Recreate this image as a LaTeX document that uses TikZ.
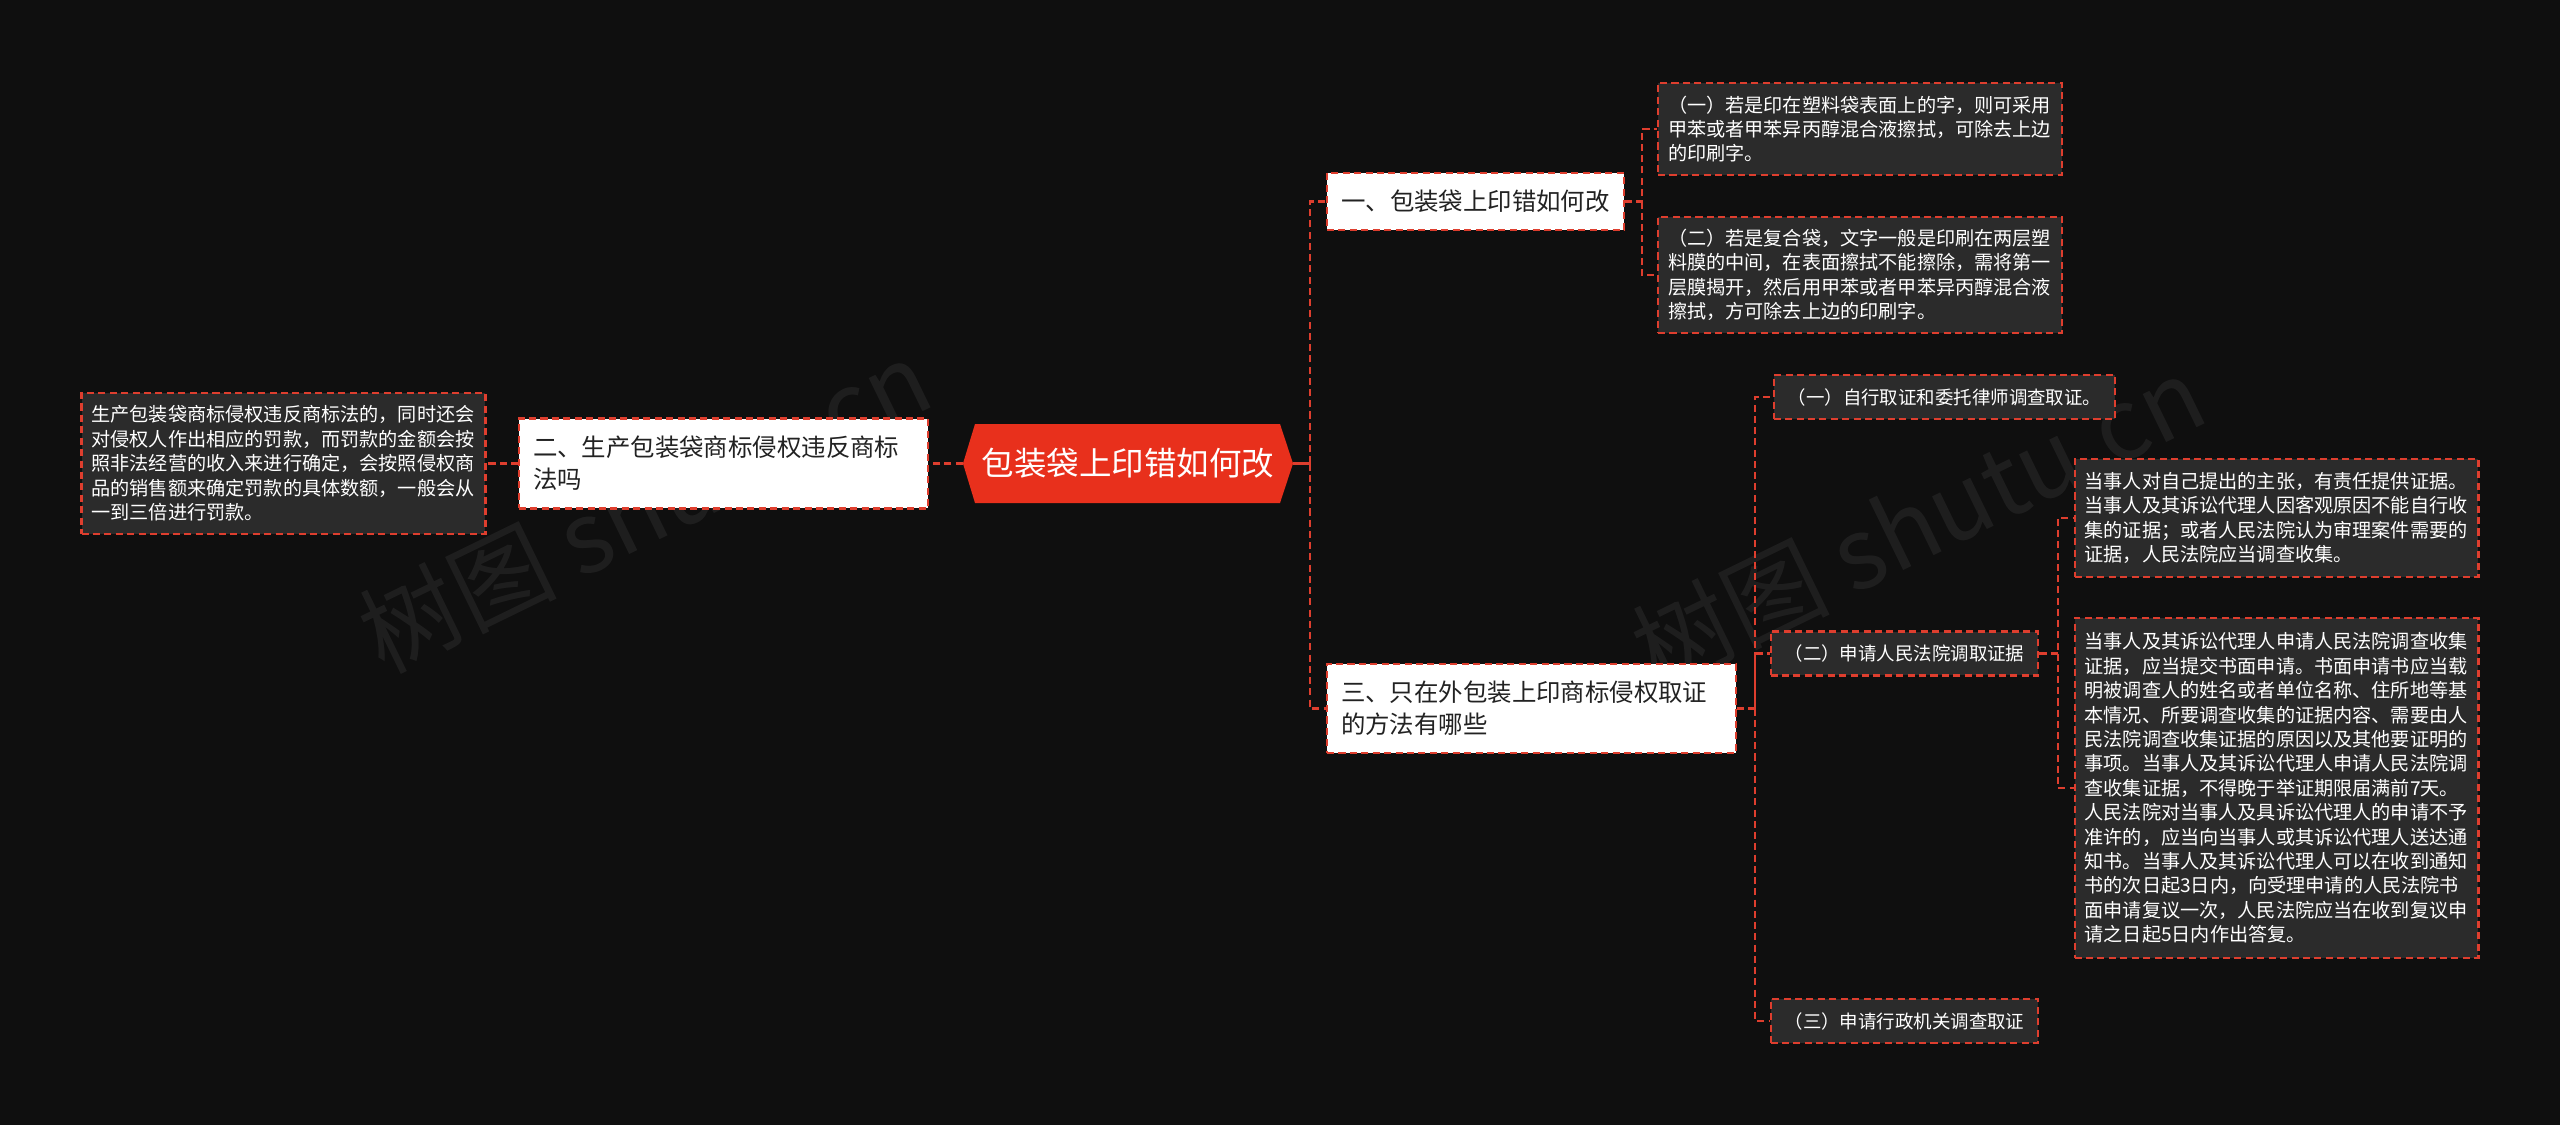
\documentclass[tikz,border=0pt]{standalone}
\usepackage{fontspec}
\setmainfont{Noto Sans CJK SC}
\definecolor{bgdark}{RGB}{15,15,15}
\definecolor{leafgray}{RGB}{43,43,43}
\definecolor{linered}{RGB}{222,62,46}
\definecolor{rootred}{RGB}{232,48,28}
\definecolor{textdark}{RGB}{34,34,34}
\newcommand\leaffnt{\fontsize{10.9}{13.9}\selectfont}
\newcommand\subfnt{\fontsize{10.5}{13.9}\selectfont}
\newcommand\midfnt{\fontsize{13.9}{18.2}\selectfont}
\newcommand\rootfnt{\fontsize{18.5}{22}\selectfont}
\begin{document}
\begin{tikzpicture}[
  x=0.02cm, y=-0.02cm,
  box/.style={draw=linered,line width=1.2pt,dash pattern=on 4pt off 2.5pt},
  leaf/.style={box,fill=leafgray,text=white,align=left,font=\leaffnt,
    inner xsep=0.2cm,inner ysep=2pt,text width=7.68cm},
  sub/.style={box,fill=leafgray,text=white,font=\subfnt,
    inner xsep=0.28cm,inner ysep=2pt,minimum height=0.88cm},
  mid/.style={box,fill=white,text=textdark,align=left,font=\midfnt,
    inner xsep=0.28cm,inner ysep=2pt},
  link/.style={draw=linered,line width=1.6pt,dash pattern=on 4pt off 2.4pt},
  stamp/.style={text=gray,opacity=0.14,font=\fontsize{56}{56}\selectfont,rotate=26}
]
\fill[bgdark] (0,0) rectangle (2560,1125);
\node[stamp] at (645,506) {树图 shutu.cn};
\node[stamp] at (1918,522) {树图 shutu.cn};
\fill[rootred] (963,463.5) -- (975,424) -- (1280,424) -- (1293,463.5)
  -- (1280,503) -- (975,503) -- cycle;
\node[text=white,font=\rootfnt,minimum width=6.6cm,minimum height=1.58cm]
  (root) at (1128,463.5) {包装袋上印错如何改};
\node[mid,minimum width=5.94cm,minimum height=1.14cm] (q1) at (1475.5,201.5)
  {一、包装袋上印错如何改};
\node[mid,text width=7.62cm,minimum height=1.8cm] (q2) at (723.5,463.5)
  {二、生产包装袋商标侵权违反商标\\法吗};
\node[mid,text width=7.62cm,minimum height=1.78cm] (q3) at (1531.5,708.5)
  {三、只在外包装上印商标侵权取证\\的方法有哪些};
\node[leaf,minimum height=2.82cm] (l0) at (283.5,463.5)
  {生产包装袋商标侵权违反商标法的，同时还会\\
   对侵权人作出相应的罚款，而罚款的金额会按\\
   照非法经营的收入来进行确定，会按照侵权商\\
   品的销售额来确定罚款的具体数额，一般会从\\
   一到三倍进行罚款。};
\node[leaf,minimum height=1.84cm] (a1) at (1860,129)
  {（一）若是印在塑料袋表面上的字，则可采用\\
   甲苯或者甲苯异丙醇混合液擦拭，可除去上边\\
   的印刷字。};
\node[leaf,minimum height=2.32cm] (a2) at (1860,275)
  {（二）若是复合袋，文字一般是印刷在两层塑\\
   料膜的中间，在表面擦拭不能擦除，需将第一\\
   层膜揭开，然后用甲苯或者甲苯异丙醇混合液\\
   擦拭，方可除去上边的印刷字。};
\node[sub] (s1) at (1944.5,397) {（一）自行取证和委托律师调查取证。};
\node[sub] (s2) at (1904.5,653.5) {（二）申请人民法院调取证据};
\node[sub] (s3) at (1904.5,1021) {（三）申请行政机关调查取证};
\node[leaf,minimum height=2.36cm] (b1) at (2276.5,518)
  {当事人对自己提出的主张，有责任提供证据。\\
   当事人及其诉讼代理人因客观原因不能自行收\\
   集的证据；或者人民法院认为审理案件需要的\\
   证据，人民法院应当调查收集。};
\node[leaf,minimum height=6.8cm] (b2) at (2276.5,788)
  {当事人及其诉讼代理人申请人民法院调查收集\\
   证据，应当提交书面申请。书面申请书应当载\\
   明被调查人的姓名或者单位名称、住所地等基\\
   本情况、所要调查收集的证据内容、需要由人\\
   民法院调查收集证据的原因以及其他要证明的\\
   事项。当事人及其诉讼代理人申请人民法院调\\
   查收集证据，不得晚于举证期限届满前7天。\\
   人民法院对当事人及具诉讼代理人的申请不予\\
   准许的，应当向当事人或其诉讼代理人送达通\\
   知书。当事人及其诉讼代理人可以在收到通知\\
   书的次日起3日内，向受理申请的人民法院书\\
   面申请复议一次，人民法院应当在收到复议申\\
   请之日起5日内作出答复。};
\coordinate (jr) at (1310,463.5);
\coordinate (j1) at (1642,201.5);
\coordinate (j3) at (1755,708.5);
\coordinate (j4) at (2058,653.5);
\draw[link,solid] (root.east) -- (jr);
\draw[link] (jr) |- (q1.west);
\draw[link] (jr) |- (q3.west);
\draw[link] (root.west) -- (q2.east);
\draw[link] (q2.west) -- (l0.east);
\draw[link] (q1.east) -- (j1) |- (a1.west);
\draw[link] (j1) |- (a2.west);
\draw[link] (q3.east) -- (j3) |- (s1.west);
\draw[link] (j3) |- (s2.west);
\draw[link] (j3) |- (s3.west);
\draw[link] (s2.east) -- (j4) |- (b1.west);
\draw[link] (j4) |- (b2.west);
\end{tikzpicture}
\end{document}
